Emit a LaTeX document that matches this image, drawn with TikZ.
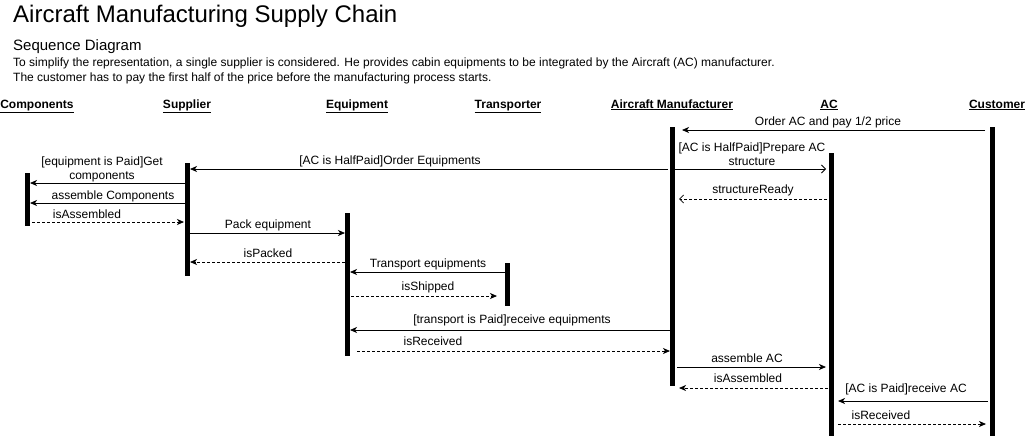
\documentclass[tikz,border=0pt]{standalone}
\usepackage{fontspec}
\setmainfont{Liberation Sans}
\usetikzlibrary{arrows.meta}
\begin{document}
\begin{tikzpicture}[x=1pt,y=-1pt,
  bar/.style={fill=black,draw=none,minimum width=5pt,inner sep=0pt,outer sep=0pt},
  msg/.style={draw=black,line width=0.8pt,-{Stealth[length=7pt,width=6pt,inset=2pt]}},
  ret/.style={msg,dashed,dash pattern=on 3pt off 2pt},
  openmsg/.style={draw=black,line width=0.8pt,-{Straight Barb[length=4pt,width=8pt]}},
  openret/.style={openmsg,dash pattern=on 3pt off 2pt},
  lbl/.style={font=\fontsize{12}{14}\selectfont,inner sep=0pt,anchor=base,align=center},
  hdr/.style={font=\fontsize{12}{14}\selectfont\bfseries,inner sep=0pt,anchor=base}]
\useasboundingbox (0,0) rectangle (1026,440);
% titles
\node[anchor=base west,inner sep=0pt,font=\fontsize{24}{28}\selectfont] (title) at (13,22) {Aircraft Manufacturing Supply Chain};
\node[anchor=base west,inner sep=0pt,font=\fontsize{15}{18}\selectfont] (sub) at (13,50) {Sequence Diagram};
\node[anchor=base west,inner sep=0pt,font=\fontsize{12}{14}\selectfont] (d1) at (13,66) {To simplify the representation, a single supplier is considered. He provides cabin equipments to be integrated by the Aircraft (AC) manufacturer.};
\node[anchor=base west,inner sep=0pt,font=\fontsize{12}{14}\selectfont] (d2) at (13,81) {The customer has to pay the first half of the price before the manufacturing process starts.};
% headers
\node[hdr] (hc) at (37,108) {\underline{Components}};
\node[hdr] (hs) at (187,108) {\underline{Supplier}};
\node[hdr] (he) at (357,108) {\underline{Equipment}};
\node[hdr] (ht) at (508,108) {\underline{Transporter}};
\node[hdr] (ham) at (672,108) {\underline{Aircraft Manufacturer}};
\node[hdr] (hac) at (829,108) {\underline{AC}};
\node[hdr] (hcu) at (997,108) {\underline{Customer}};
% activation bars
\node[bar,minimum height=53pt] (comp) at (27.5,199.5) {};
\node[bar,minimum height=113pt] (sup) at (187.5,219.5) {};
\node[bar,minimum height=143pt] (eq) at (347.5,284.5) {};
\node[bar,minimum height=43pt] (tr) at (507.5,284.5) {};
\node[bar,minimum height=259pt] (am) at (672.5,256.5) {};
\node[bar,minimum height=283pt] (ac) at (831.5,294.5) {};
\node[bar,minimum height=309pt] (cu) at (992.5,281.5) {};
% messages
\draw[msg,shorten >=7pt,shorten <=5pt] (cu.west |- 0,130) -- (am.east |- 0,130);
\node[lbl] (l1) at (828,125) {Order AC and pay 1/2 price};
\draw[msg,shorten <=2pt,shorten >=0pt] (am.west |- 0,169) -- (sup.east |- 0,169);
\node[lbl] (l2) at (390,164) {[AC is HalfPaid]Order Equipments};
\draw[openmsg,shorten >=3pt] (am.east |- 0,169) -- (ac.west |- 0,169);
\node[lbl] (l3) at (752,165) {[AC is HalfPaid]Prepare AC\\structure};
\draw[msg,shorten >=0pt] (sup.west |- 0,183) -- (comp.east |- 0,183);
\node[lbl] (l4) at (102,179) {[equipment is Paid]Get\\components};
\draw[msg] (sup.west |- 0,203) -- (comp.east |- 0,203);
\node[lbl] (l5) at (113,199) {assemble Components};
\draw[openret,shorten >=4pt,shorten <=2pt] (ac.west |- 0,199) -- (am.east |- 0,199);
\node[lbl] (l6) at (753,193) {structureReady};
\draw[ret,shorten >=1pt,shorten <=2pt] (comp.east |- 0,222) -- (sup.west |- 0,222);
\node[lbl] (l7) at (87,218) {isAssembled};
\draw[msg] (sup.east |- 0,233) -- (eq.west |- 0,233);
\node[lbl] (l8) at (268,228) {Pack equipment};
\draw[ret] (eq.west |- 0,262) -- (sup.east |- 0,262);
\node[lbl] (l9) at (268,257) {isPacked};
\draw[msg] (tr.west |- 0,272) -- (eq.east |- 0,272);
\node[lbl] (l10) at (428,267) {Transport equipments};
\draw[ret,shorten >=8pt,shorten <=1pt] (eq.east |- 0,296) -- (tr.west |- 0,296);
\node[lbl] (l11) at (428,290) {isShipped};
\draw[msg] (am.west |- 0,330) -- (eq.east |- 0,330);
\node[lbl] (l12) at (512,323) {[transport is Paid]receive equipments};
\draw[ret,shorten <=7pt,shorten >=0pt] (eq.east |- 0,351) -- (am.west |- 0,351);
\node[lbl] (l13) at (433,345) {isReceived};
\draw[msg,shorten <=2pt,shorten >=3pt] (am.east |- 0,367) -- (ac.west |- 0,367);
\node[lbl] (l14) at (747,362) {assemble AC};
\draw[ret,shorten <=1pt,shorten >=4pt] (ac.west |- 0,388) -- (am.east |- 0,388);
\node[lbl] (l15) at (748,382) {isAssembled};
\draw[msg,shorten <=2pt,shorten >=4pt] (cu.west |- 0,401) -- (ac.east |- 0,401);
\node[lbl] (l16) at (906,392) {[AC is Paid]receive AC};
\draw[ret,shorten <=4pt,shorten >=4pt] (ac.east |- 0,424) -- (cu.west |- 0,424);
\node[lbl] (l17) at (881,419) {isReceived};
\end{tikzpicture}
\end{document}
